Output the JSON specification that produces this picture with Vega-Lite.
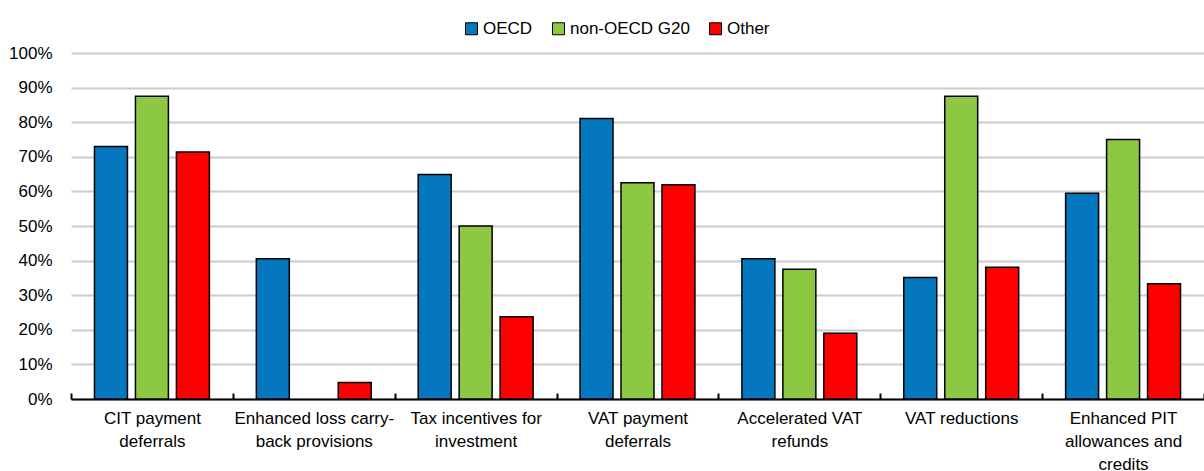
{
  "$schema": "https://vega.github.io/schema/vega-lite/v6.json",
  "width": 1133,
  "height": 346,
  "autosize": {"type": "none"},
  "padding": {"left": 71, "top": 53, "right": 0, "bottom": 72},
  "background": "white",
  "config": {
    "view": {"stroke": null},
    "font": "Liberation Sans",
    "axis": {"labelFont": "Liberation Sans", "labelColor": "#000"}
  },
  "data": {
    "values": [
      {"measure": "CIT payment deferrals", "group": "OECD", "share": 0.73},
      {"measure": "CIT payment deferrals", "group": "non-OECD G20", "share": 0.875},
      {"measure": "CIT payment deferrals", "group": "Other", "share": 0.714},
      {"measure": "Enhanced loss carry-back provisions", "group": "OECD", "share": 0.405},
      {"measure": "Enhanced loss carry-back provisions", "group": "Other", "share": 0.048},
      {"measure": "Tax incentives for investment", "group": "OECD", "share": 0.649},
      {"measure": "Tax incentives for investment", "group": "non-OECD G20", "share": 0.5},
      {"measure": "Tax incentives for investment", "group": "Other", "share": 0.238},
      {"measure": "VAT payment deferrals", "group": "OECD", "share": 0.811},
      {"measure": "VAT payment deferrals", "group": "non-OECD G20", "share": 0.625},
      {"measure": "VAT payment deferrals", "group": "Other", "share": 0.619},
      {"measure": "Accelerated VAT refunds", "group": "OECD", "share": 0.405},
      {"measure": "Accelerated VAT refunds", "group": "non-OECD G20", "share": 0.375},
      {"measure": "Accelerated VAT refunds", "group": "Other", "share": 0.19},
      {"measure": "VAT reductions", "group": "OECD", "share": 0.351},
      {"measure": "VAT reductions", "group": "non-OECD G20", "share": 0.875},
      {"measure": "VAT reductions", "group": "Other", "share": 0.381},
      {"measure": "Enhanced PIT allowances and credits", "group": "OECD", "share": 0.595},
      {"measure": "Enhanced PIT allowances and credits", "group": "non-OECD G20", "share": 0.75},
      {"measure": "Enhanced PIT allowances and credits", "group": "Other", "share": 0.333}
    ]
  },
  "mark": {"type": "bar", "stroke": "#000", "strokeWidth": 1.5},
  "encoding": {
    "x": {
      "field": "measure",
      "type": "nominal",
      "sort": ["CIT payment deferrals", "Enhanced loss carry-back provisions", "Tax incentives for investment", "VAT payment deferrals", "Accelerated VAT refunds", "VAT reductions", "Enhanced PIT allowances and credits"],
      "scale": {"paddingInner": 0, "paddingOuter": 0},
      "axis": {
        "title": null,
        "labelAngle": 0,
        "labelFontSize": 17,
        "labelLineHeight": 23,
        "labelPadding": 17,
        "labelBaseline": "top",
        "tickBand": "extent",
        "tickSize": -6,
        "tickWidth": 2,
        "tickColor": "#000",
        "domainColor": "#000",
        "domainWidth": 2,
        "grid": false,
        "labelExpr": "{'CIT payment deferrals': ['CIT payment','deferrals'], 'Enhanced loss carry-back provisions': ['Enhanced loss carry-','back provisions'], 'Tax incentives for investment': ['Tax incentives for','investment'], 'VAT payment deferrals': ['VAT payment','deferrals'], 'Accelerated VAT refunds': ['Accelerated VAT','refunds'], 'VAT reductions': ['VAT reductions'], 'Enhanced PIT allowances and credits': ['Enhanced PIT','allowances and','credits']}[datum.label]"
      }
    },
    "xOffset": {
      "field": "group",
      "type": "nominal",
      "sort": ["OECD", "non-OECD G20", "Other"],
      "scale": {"domain": ["OECD", "non-OECD G20", "Other"], "paddingInner": 0.195, "paddingOuter": 0.573}
    },
    "y": {
      "field": "share",
      "type": "quantitative",
      "scale": {"domain": [0, 1], "nice": false},
      "axis": {
        "title": null,
        "values": [0, 0.1, 0.2, 0.3, 0.4, 0.5, 0.6, 0.7, 0.8, 0.9, 1],
        "format": ".0%",
        "labelFontSize": 17,
        "labelPadding": 19,
        "ticks": false,
        "domain": false,
        "gridColor": "#cccccc",
        "gridWidth": 2
      }
    },
    "color": {
      "field": "group",
      "type": "nominal",
      "sort": ["OECD", "non-OECD G20", "Other"],
      "scale": {"domain": ["OECD", "non-OECD G20", "Other"], "range": ["#0477bf", "#8cc841", "#ff0000"]},
      "legend": {
        "title": null,
        "orient": "none",
        "legendX": 392,
        "legendY": -33,
        "direction": "horizontal",
        "symbolType": "square",
        "symbolSize": 144,
        "symbolStrokeColor": "#000",
        "symbolStrokeWidth": 1,
        "labelFontSize": 17,
        "labelColor": "#000",
        "labelOffset": 3,
        "columnPadding": 17
      }
    }
  }
}
